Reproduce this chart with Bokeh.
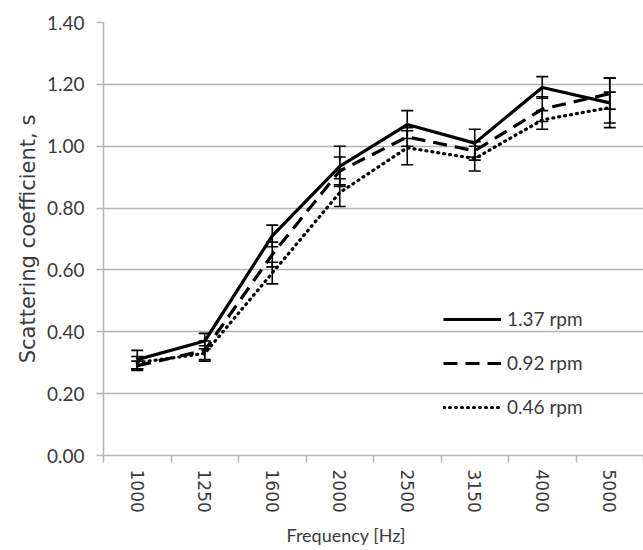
import numpy as np
from bokeh.plotting import figure
from bokeh.models import (Range1d, FixedTicker, Whisker, TeeHead, ColumnDataSource,
                          Legend, LegendItem, NumeralTickFormatter, Title)
from bokeh.embed import file_html
from bokeh.resources import INLINE

freqs = ["1000", "1250", "1600", "2000", "2500", "3150", "4000", "5000"]
s_137 = [0.31, 0.37, 0.71, 0.935, 1.07, 1.01, 1.19, 1.14]
e_137 = [0.03, 0.025, 0.035, 0.065, 0.045, 0.045, 0.035, 0.08]
s_092 = [0.29, 0.34, 0.65, 0.92, 1.03, 0.985, 1.12, 1.17]
e_092 = [0.015, 0.03, 0.04, 0.045, 0.03, 0.03, 0.04, 0.05]
s_046 = [0.30, 0.33, 0.59, 0.85, 0.995, 0.96, 1.085, 1.125]
e_046 = [0.02, 0.025, 0.035, 0.045, 0.055, 0.04, 0.03, 0.05]
series_labels = ["1.37 rpm", "0.92 rpm", "0.46 rpm"]
y_ticks = [0.0, 0.2, 0.4, 0.6, 0.8, 1.0, 1.2, 1.4]

GRID = "#b4b4b4"
TXT = "#3a3a3a"
HFONT = "Lato"         # horizontal texts
VFONT = "DejaVu Sans"  # rotated texts

xpos = [i + 0.5 for i in range(len(freqs))]

p = figure(frame_width=540, frame_height=433, output_backend="svg",
           toolbar_location=None, x_range=Range1d(0, len(freqs)),
           y_range=Range1d(0, 1.4),
           min_border_left=103, min_border_right=0, min_border_top=22,
           min_border_bottom=93)
p.outline_line_color = None
p.background_fill_color = "white"

# axes
p.xaxis.ticker = FixedTicker(ticks=xpos, minor_ticks=list(range(len(freqs) + 1)))
p.xaxis.major_label_overrides = {x: f for x, f in zip(xpos, freqs)}
p.xaxis.major_tick_line_color = None
p.xaxis.minor_tick_line_color = GRID
p.xaxis.minor_tick_line_width = 1.5
p.xaxis.minor_tick_out = 7
p.xaxis.minor_tick_in = 0
p.xaxis.major_label_orientation = "vertical"
p.xaxis.major_label_standoff = 7
p.xaxis.major_label_text_font = VFONT
p.xaxis.major_label_text_font_size = "17px"
p.xaxis.major_label_text_color = TXT
p.xaxis.axis_line_color = GRID
p.xaxis.axis_line_width = 1.5

p.yaxis.ticker = FixedTicker(ticks=y_ticks, minor_ticks=[])
p.yaxis.formatter = NumeralTickFormatter(format="0.00")
p.yaxis.major_tick_line_color = GRID
p.yaxis.major_tick_line_width = 1.5
p.yaxis.major_tick_out = 7
p.yaxis.major_tick_in = 0
p.yaxis.major_label_standoff = 12
p.yaxis.major_label_text_font = HFONT
p.yaxis.major_label_text_font_size = "19px"
p.yaxis.major_label_text_color = TXT
p.yaxis.axis_line_color = GRID
p.yaxis.axis_line_width = 1.5
p.yaxis.axis_label = "Scattering coefficient, s"
p.yaxis.axis_label_text_font = VFONT
p.yaxis.axis_label_text_font_size = "21px"
p.yaxis.axis_label_text_font_style = "normal"
p.yaxis.axis_label_text_color = TXT
p.yaxis.axis_label_standoff = 4

xtitle = Title(text="Frequency [Hz]", align="left", offset=183,
               text_font=HFONT, text_font_size="18px", text_font_style="normal",
               text_color=TXT, standoff=12)
p.add_layout(xtitle, "below")

p.xgrid.visible = False
p.ygrid.ticker = FixedTicker(ticks=y_ticks)
p.ygrid.grid_line_color = GRID
p.ygrid.grid_line_width = 1.5

styles = [("solid", 3.2), ("14 8", 3.2), ("1 5", 3.2)]
items = []
for vals, errs, lab, (dash, lw) in zip([s_137, s_092, s_046], [e_137, e_092, e_046],
                                       series_labels, styles):
    src = ColumnDataSource(dict(x=xpos, y=vals,
                                upper=[v + e for v, e in zip(vals, errs)],
                                lower=[v - e for v, e in zip(vals, errs)]))
    r = p.line("x", "y", source=src, line_color="black", line_width=lw,
               line_dash=dash, line_cap="round" if dash == "1 5" else "butt")
    w = Whisker(base="x", upper="upper", lower="lower", source=src,
                line_color="black", line_width=1.6,
                upper_head=TeeHead(size=12, line_color="black", line_width=1.6),
                lower_head=TeeHead(size=12, line_color="black", line_width=1.6))
    p.add_layout(w)
    items.append(LegendItem(label=lab, renderers=[r]))

legend = Legend(items=items, location=(340, 37), orientation="vertical",
                background_fill_alpha=0, border_line_color=None,
                glyph_width=58, glyph_height=20, label_standoff=6,
                spacing=21, padding=0, margin=0,
                label_text_font=HFONT, label_text_font_size="19px",
                label_text_color=TXT)
p.add_layout(legend)

open("out.html", "w").write(file_html(p, INLINE))
